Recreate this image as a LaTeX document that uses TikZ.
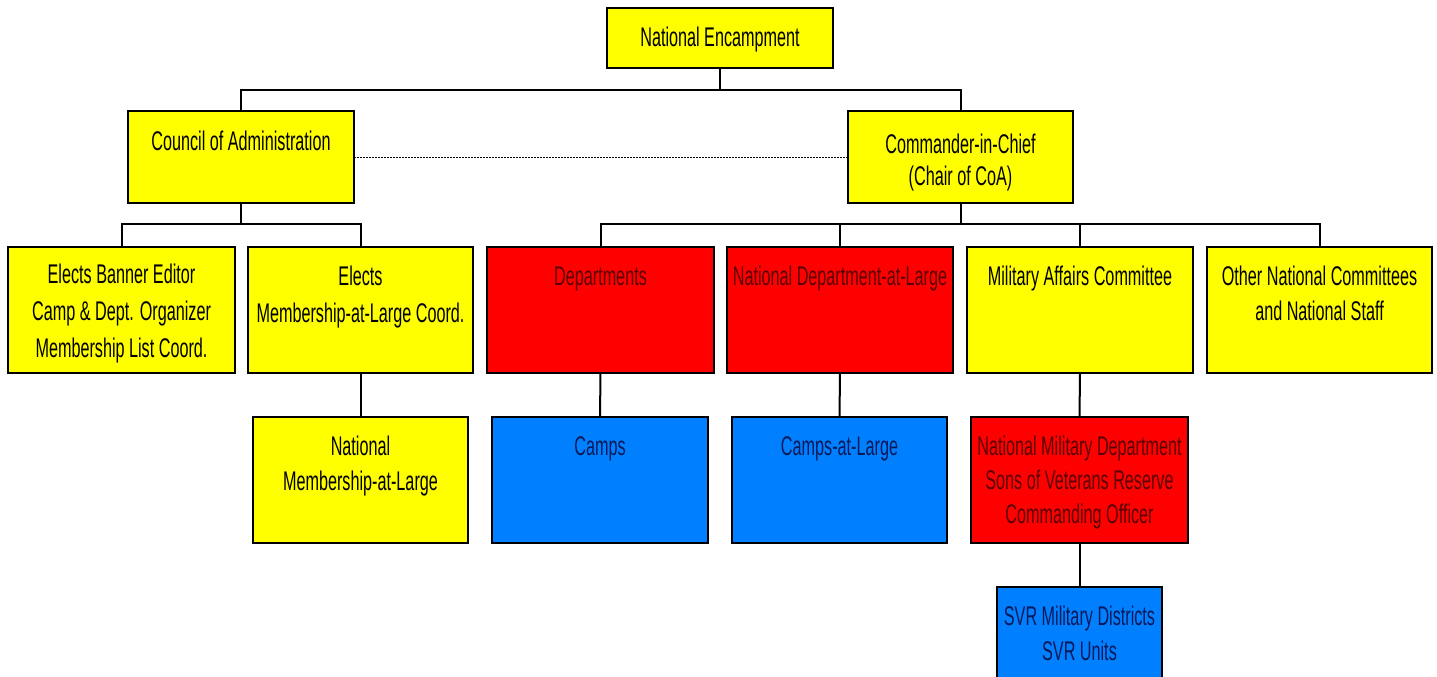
\documentclass[tikz,border=0pt]{standalone}
\usepackage{fontspec}
\setmainfont[FakeStretch=0.6]{Liberation Sans}
\definecolor{boxyellow}{RGB}{255,255,0}
\definecolor{boxred}{RGB}{255,0,0}
\definecolor{boxblue}{RGB}{0,128,255}
\definecolor{redtext}{RGB}{90,0,0}
\definecolor{bluetext}{RGB}{10,25,90}
% width, height, first baseline offset, line skip, text
\newcommand{\bxtext}[5]{\parbox[t][#2pt][t]{#1pt}{\centering\fontsize{27}{#4}\selectfont\rule{0pt}{#3pt}#5}}
\tikzset{
  orgbox/.style={draw=black, line width=2.8pt, inner sep=0pt, outer sep=0pt, anchor=north west},
  ybox/.style={orgbox, fill=boxyellow, text=black},
  rbox/.style={orgbox, fill=boxred, text=redtext},
  bbox/.style={orgbox, fill=boxblue, text=bluetext},
  conn/.style={draw=black, line width=2pt},
  dotline/.style={draw=black, line width=1pt, dash pattern=on 1.5pt off 1.5pt}
}
\begin{document}
\begin{tikzpicture}[x=1pt,y=-1pt]
\useasboundingbox (0,0) rectangle (1437,677);
\fill[white] (0,0) rectangle (1437,677);
% top
\node[ybox] (ne) at (607,8) {\bxtext{226}{60}{39}{34}{National Encampment}};
\node[ybox] (coa) at (128,111) {\bxtext{226}{92}{39}{34}{Council of Administration}};
\node[ybox] (cic) at (848,111) {\bxtext{225}{92}{42}{32}{Commander-in-Chief\\(Chair of CoA)}};
% row 2
\node[ybox] (b1) at (8,247) {\bxtext{227}{126}{36}{37}{Elects Banner Editor\\Camp \& Dept. Organizer\\Membership List Coord.}};
\node[ybox] (b2) at (248,247) {\bxtext{225}{126}{38}{37}{Elects\\Membership-at-Large Coord.}};
\node[rbox] (dep) at (487,247) {\bxtext{227}{126}{38}{35}{Departments}};
\node[rbox] (ndal) at (727,247) {\bxtext{226}{126}{38}{35}{National Department-at-Large}};
\node[ybox] (mac) at (967,247) {\bxtext{226}{126}{38}{35}{Military Affairs Committee}};
\node[ybox] (other) at (1207,247) {\bxtext{225}{126}{38}{35}{Other National Committees\\and National Staff}};
% row 3
\node[ybox] (nmal) at (253,417) {\bxtext{215}{126}{38}{35}{National\\Membership-at-Large}};
\node[bbox] (camps) at (492,417) {\bxtext{216}{126}{38}{35}{Camps}};
\node[bbox] (cal) at (732,417) {\bxtext{215}{126}{38}{35}{Camps-at-Large}};
\node[rbox] (nmd) at (971,417) {\bxtext{217}{126}{38}{34}{National Military Department\\Sons of Veterans Reserve\\Commanding Officer}};
% row 4
\node[bbox] (svr) at (997,587) {\bxtext{165}{94}{38}{35}{SVR Military Districts\\SVR Units}};
% buses
\coordinate (bus1) at (0,90);
\coordinate (bus2) at (0,224);
\draw[conn] (ne.south) -- (ne.south |- bus1);
\draw[conn] (coa.north) |- (bus1 -| cic.north) -- (cic.north);
\draw[dotline] (coa.east) -- (cic.west);
\draw[conn] (coa.south) -- (coa.south |- bus2);
\draw[conn] (b1.north) |- (bus2 -| b2.north) -- (b2.north);
\draw[conn] (cic.south) -- (cic.south |- bus2);
\draw[conn] (dep.north) |- (bus2 -| other.north) -- (other.north);
\draw[conn] (ndal.north) -- (ndal.north |- bus2);
\draw[conn] (mac.north) -- (mac.north |- bus2);
% vertical links
\draw[conn] (b2.south) -- (nmal.north);
\draw[conn] (dep.south) -- (camps.north);
\draw[conn] (ndal.south) -- (cal.north);
\draw[conn] (mac.south) -- (nmd.north);
\draw[conn] (nmd.south) -- (svr.north);
\end{tikzpicture}
\end{document}
